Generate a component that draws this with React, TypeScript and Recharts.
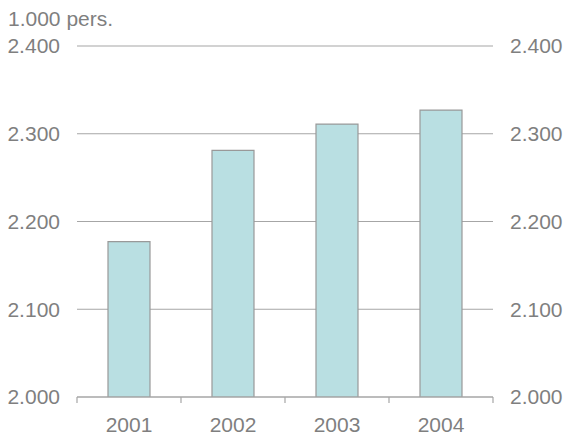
import React from "react";
import { BarChart, Bar, XAxis, YAxis, CartesianGrid } from "recharts";

const years = ["2001", "2002", "2003", "2004"];
const persons = [2177, 2281, 2311, 2327];
const yTicks = [2000, 2100, 2200, 2300, 2400];
const unitLabel = "1.000 pers.";

const data = years.map((y, i) => ({ year: y, value: persons[i] }));

const fmt = (v: number) => {
  const s = String(v);
  return s.length > 3 ? s.slice(0, s.length - 3) + "." + s.slice(-3) : s;
};

const FONT = "'Liberation Sans', Arial, sans-serif";
const TXT = "#7f7f7f";
const LINE = "#a6a6a6";
const FS = 21;
const tickStyle = { fill: TXT, fontSize: FS, fontFamily: FONT };
const X_MARGIN = 20;

const YearTick = (props: any) => {
  const { x, y, payload, index, visibleTicksCount } = props;
  const off = payload && payload.offset ? payload.offset : 0;
  const axisY = y - X_MARGIN;
  const last = index === visibleTicksCount - 1;
  return (
    <g>
      <line x1={x - off} x2={x - off} y1={axisY} y2={axisY + 6} stroke={LINE} strokeWidth={1.2} />
      {last ? (
        <line x1={x + off} x2={x + off} y1={axisY} y2={axisY + 6} stroke={LINE} strokeWidth={1.2} />
      ) : null}
      <text x={x} y={y} dy="0.71em" textAnchor="middle" fill={TXT} fontSize={FS} fontFamily={FONT}>
        {payload.value}
      </text>
    </g>
  );
};

export default function App() {
  return (
    <div style={{ position: "absolute", left: 0, top: 0, width: 565, height: 436, background: "#fff" }}>
      <div
        style={{
          position: "absolute",
          left: 8,
          top: 6,
          fontFamily: FONT,
          fontSize: FS,
          color: TXT,
          lineHeight: "26px",
          whiteSpace: "nowrap",
        }}
      >
        {unitLabel}
      </div>
      <BarChart
        width={565}
        height={436}
        data={data}
        margin={{ top: 46, right: 0, bottom: 0, left: 0 }}
        barSize={42}
      >
        <CartesianGrid horizontal vertical={false} stroke={LINE} strokeWidth={1.2} />
        <XAxis
          dataKey="year"
          height={39}
          tickLine={false}
          axisLine={{ stroke: LINE, strokeWidth: 1.2 }}
          tickSize={0}
          tickMargin={X_MARGIN}
          tick={<YearTick />}
          interval={0}
        />
        <YAxis
          domain={[2000, 2400]}
          ticks={yTicks}
          allowDataOverflow
          width={77}
          tickLine={false}
          axisLine={false}
          tickSize={0}
          tickMargin={17}
          tick={tickStyle}
          tickFormatter={fmt}
        />
        <YAxis
          yAxisId="right"
          orientation="right"
          domain={[2000, 2400]}
          ticks={yTicks}
          allowDataOverflow
          width={72}
          tickLine={false}
          axisLine={false}
          tickSize={0}
          tickMargin={17}
          tick={{ ...tickStyle, textAnchor: "start" }}
          tickFormatter={fmt}
        />
        <Bar
          dataKey="value"
          fill="#b9dfe2"
          stroke="#999999"
          strokeWidth={1.2}
          isAnimationActive={false}
        />
      </BarChart>
    </div>
  );
}
